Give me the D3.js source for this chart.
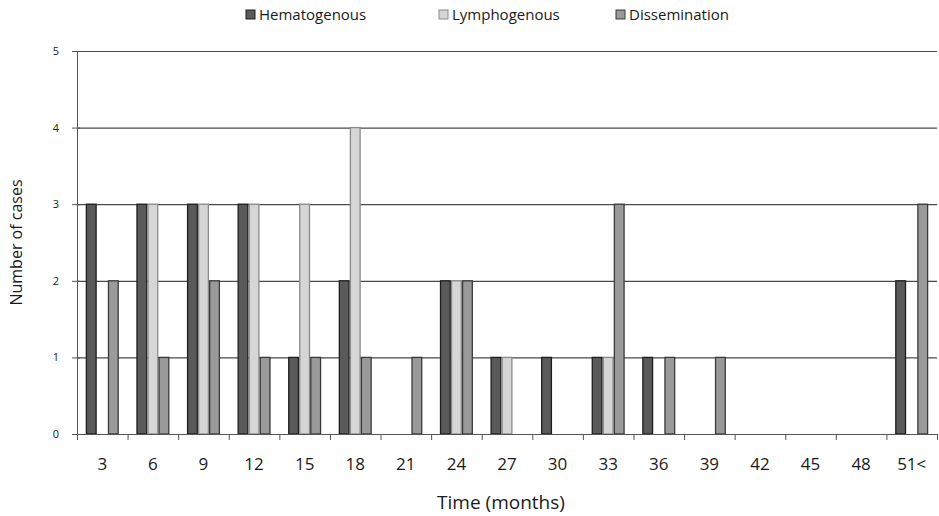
<!DOCTYPE html>
<html>
<head>
<meta charset="utf-8">
<script src="https://cdn.jsdelivr.net/npm/d3@7"></script>
<style>
    body { margin: 0; background: #fff; }
    text { font-family: "Open Sans", sans-serif; fill: #1a1a1a; }
</style>
</head>
<body>
<div id="chart"></div>
<script>
// months after surgery (category labels)
var months = ["3", "6", "9", "12", "15", "18", "21", "24", "27", "30", "33", "36", "39", "42", "45", "48", "51<"];
var seriesNames = ["Hematogenous", "Lymphogenous", "Dissemination"];
// number of cases per category
var hematogenous = [3, 3, 3, 3, 1, 2, 0, 2, 1, 1, 1, 1, 0, 0, 0, 0, 2];
var lymphogenous = [0, 3, 3, 3, 3, 4, 0, 2, 1, 0, 1, 0, 0, 0, 0, 0, 0];
var dissemination = [2, 1, 2, 1, 1, 1, 1, 2, 0, 0, 3, 1, 1, 0, 0, 0, 3];
var yTicks = [0, 1, 2, 3, 4, 5];

function chart() {
    var margin = { top: 51, right: 2, bottom: 82, left: 77 },
        width = 939 - margin.left - margin.right,
        height = 516 - margin.top - margin.bottom;

    var values = [hematogenous, lymphogenous, dissemination];
    var data = months.map(function (m, i) {
        return {
            month: m,
            boxes: seriesNames.map(function (name, s) {
                return { name: name, value: values[s][i] };
            })
        };
    });

    var x0 = d3.scaleBand().domain(months).range([0, width]).padding(0);
    var x1 = d3.scaleBand().domain(seriesNames).range([0, x0.bandwidth()])
        .paddingInner(0.12).paddingOuter(0.85);
    var y = d3.scaleLinear().domain([0, 5]).range([height, 0]);

    var fill = d3.scaleOrdinal().domain(seriesNames).range(["#5a5a5a", "#d6d6d6", "#9a9a9a"]);
    var edge = d3.scaleOrdinal().domain(seriesNames).range(["#1e1e1e", "#8a8a8a", "#3a3a3a"]);

    var svg = d3.select("#chart").append("svg")
        .attr("width", 939)
        .attr("height", 516)
        .append("g")
        .attr("transform", "translate(" + margin.left + "," + margin.top + ")");

    // gridlines
    svg.append("g").selectAll("line")
        .data(yTicks.slice(1))
        .enter().append("line")
        .attr("x1", 0)
        .attr("x2", width)
        .attr("y1", d => y(d) + 0.5)
        .attr("y2", d => y(d) + 0.5)
        .style("stroke", "#4a4a4a")
        .style("stroke-width", 1.2);

    // y axis
    var yAxis = svg.append("g")
        .attr("class", "y axis")
        .call(d3.axisLeft(y).tickValues(yTicks).tickSize(5).tickPadding(13).tickFormat(d3.format("d")));
    yAxis.select(".domain").remove();
    yAxis.selectAll(".tick line").attr("x2", 3).attr("x1", -5).style("stroke", "#555");
    yAxis.selectAll(".tick text").style("font-size", "11px");
    svg.append("line")
        .attr("x1", 0.5).attr("x2", 0.5)
        .attr("y1", 0).attr("y2", height)
        .style("stroke", "#555");

    // bars
    var groups = svg.selectAll(".month")
        .data(data)
        .enter().append("g")
        .attr("class", "month")
        .attr("transform", d => "translate(" + x0(d.month) + ",0)");

    groups.selectAll("rect")
        .data(d => d.boxes.filter(b => b.value > 0))
        .enter().append("rect")
        .attr("x", d => x1(d.name))
        .attr("y", d => y(d.value))
        .attr("width", x1.bandwidth())
        .attr("height", d => height - y(d.value))
        .style("fill", d => fill(d.name))
        .style("stroke", d => edge(d.name))
        .style("stroke-width", 1.3);

    // x axis: baseline, boundary ticks, labels
    svg.append("line")
        .attr("x1", 0).attr("x2", width)
        .attr("y1", height + 0.5).attr("y2", height + 0.5)
        .style("stroke", "#555");

    svg.append("g").selectAll("line")
        .data(months.concat(["end"]))
        .enter().append("line")
        .attr("x1", (d, i) => i * x0.step() + 0.5)
        .attr("x2", (d, i) => i * x0.step() + 0.5)
        .attr("y1", height)
        .attr("y2", height + 6)
        .style("stroke", "#555");

    var xAxis = svg.append("g")
        .attr("class", "x axis")
        .attr("transform", "translate(0," + height + ")")
        .call(d3.axisBottom(x0).tickSize(0).tickPadding(24));
    xAxis.select(".domain").remove();
    xAxis.selectAll(".tick text").style("font-size", "17px");

    // axis titles
    svg.append("text")
        .attr("x", width / 2 - 6)
        .attr("y", height + 75)
        .style("text-anchor", "middle")
        .style("font-size", "19px")
        .text("Time (months)");

    svg.append("text")
        .attr("transform", "translate(" + (-55) + "," + (height / 2) + ") rotate(-90)")
        .style("text-anchor", "middle")
        .style("font-size", "16px")
        .text("Number of cases");

    // legend
    var legendX = [246, 439, 616];
    var legend = d3.select("#chart svg").append("g")
        .selectAll(".legend")
        .data(seriesNames)
        .enter().append("g")
        .attr("class", "legend")
        .attr("transform", (d, i) => "translate(" + legendX[i] + ",10)");

    legend.append("rect")
        .attr("width", 9)
        .attr("height", 9)
        .style("fill", d => fill(d))
        .style("stroke", d => edge(d));

    legend.append("text")
        .attr("x", 13)
        .attr("y", 5)
        .attr("dy", "0.35em")
        .style("font-size", "15px")
        .text(d => d);
}

chart();
</script>
</body>
</html>
